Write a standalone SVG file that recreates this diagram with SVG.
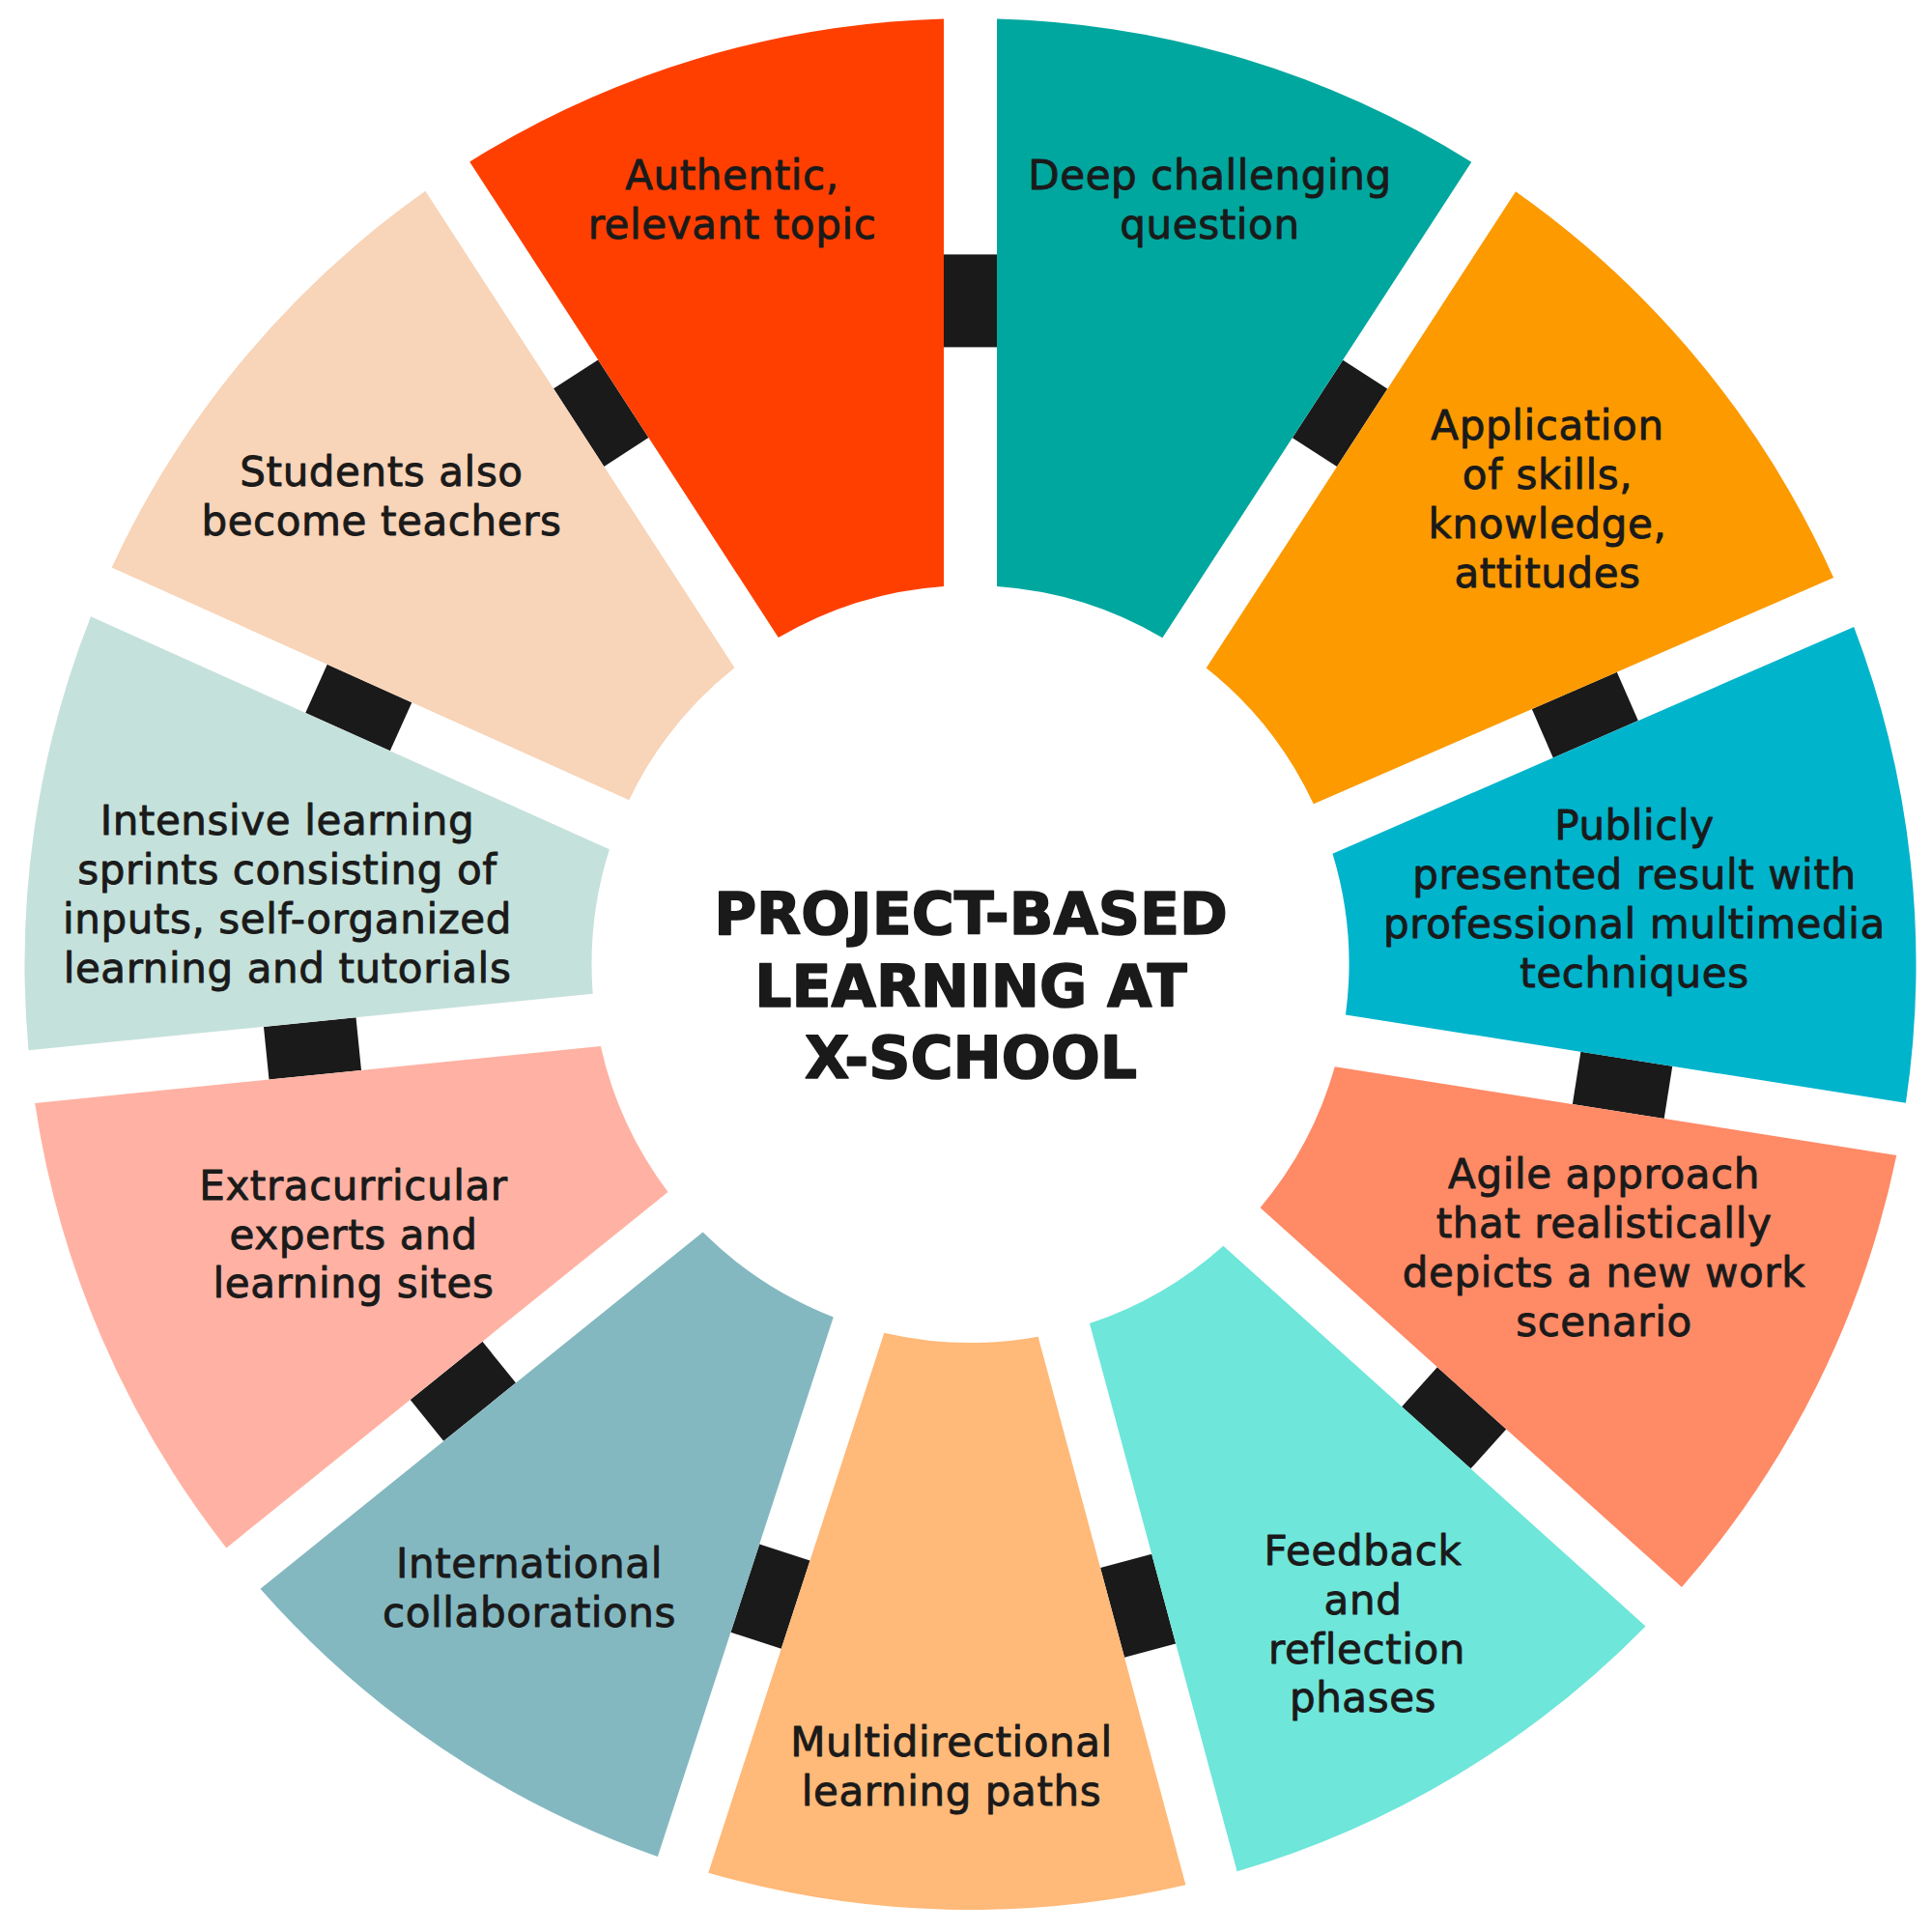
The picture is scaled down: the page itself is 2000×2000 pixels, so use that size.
<svg xmlns="http://www.w3.org/2000/svg" width="2000" height="2000" viewBox="0 0 2000 2000">
<style>
.lbl{font-family:"DejaVu Sans","Liberation Sans",sans-serif;font-size:42px;letter-spacing:0.6px;fill:#1a1a1a;text-anchor:middle;stroke:#1a1a1a;stroke-width:0.9px;stroke-linejoin:round}
.title{font-family:"DejaVu Sans","Liberation Sans",sans-serif;font-size:60px;font-weight:bold;fill:#1a1a1a;text-anchor:middle;stroke:#1a1a1a;stroke-width:1.6px;stroke-linejoin:round}
.blk{fill:#1a1a1a}
</style>
<defs>
<rect id="link" x="-27.5" y="-48" width="55" height="96"/>
</defs>
<rect width="2000" height="2000" fill="#ffffff"/>
<g id="connectors" class="blk">
<use href="#link" transform="translate(1004.5 311.4) rotate(0)"/>
<use href="#link" transform="translate(1387.09 427.87) rotate(33)"/>
<use href="#link" transform="translate(1640.81 740.06) rotate(66.48)"/>
<use href="#link" transform="translate(1679.55 1123.43) rotate(98.96)"/>
<use href="#link" transform="translate(1505.18 1467.82) rotate(132)"/>
<use href="#link" transform="translate(1178.13 1662.28) rotate(164.94)"/>
<use href="#link" transform="translate(797.48 1652.65) rotate(198.04)"/>
<use href="#link" transform="translate(479.33 1440.3) rotate(231.13)"/>
<use href="#link" transform="translate(323.49 1085.45) rotate(264.26)"/>
<use href="#link" transform="translate(371.28 732.55) rotate(294.19)"/>
<use href="#link" transform="translate(622.22 427.66) rotate(327.03)"/>
</g>
<g id="node-deep">
<path fill="#00a79e" d="M1032,606.97 L1032,19.39 A979,979 0 0 1 1523.24,167.73 L1203.41,660.21 A392,392 0 0 0 1032,606.97 Z"/>
<text class="lbl"><tspan x="1252.5" y="195.5">Deep challenging</tspan><tspan x="1252.5" y="246.5">question</tspan></text>
</g>
<g id="node-application">
<path fill="#fc9a00" d="M1248.74,691.39 L1569.05,198.17 A979,979 0 0 1 1898.1,598.09 L1359.8,832.37 A392,392 0 0 0 1248.74,691.39 Z"/>
<text class="lbl"><tspan x="1602" y="454.7">Application</tspan><tspan x="1602" y="505.7">of skills,</tspan><tspan x="1602" y="556.7">knowledge,</tspan><tspan x="1602" y="607.7">attitudes</tspan></text>
</g>
<g id="node-publicly">
<path fill="#00b4cc" d="M1379.49,883.79 L1919.14,648.91 A979,979 0 0 1 1972.88,1141.84 L1392.98,1050.41 A392,392 0 0 0 1379.49,883.79 Z"/>
<text class="lbl"><tspan x="1692" y="869">Publicly</tspan><tspan x="1692" y="920">presented result with</tspan><tspan x="1692" y="971">professional multimedia</tspan><tspan x="1692" y="1022">techniques</tspan></text>
</g>
<g id="node-agile">
<path fill="#ff8a66" d="M1381.8,1104.33 L1963.27,1196 A979,979 0 0 1 1740.92,1643.07 L1304.59,1250.2 A392,392 0 0 0 1381.8,1104.33 Z"/>
<text class="lbl"><tspan x="1660.5" y="1230">Agile approach</tspan><tspan x="1660.5" y="1281">that realistically</tspan><tspan x="1660.5" y="1332">depicts a new work</tspan><tspan x="1660.5" y="1383">scenario</tspan></text>
</g>
<g id="node-feedback">
<path fill="#6ee6da" d="M1266.32,1289.75 L1703.53,1683.42 A979,979 0 0 1 1280.6,1937.27 L1127.98,1370.05 A392,392 0 0 0 1266.32,1289.75 Z"/>
<text class="lbl"><tspan x="1411" y="1619.5">Feedback</tspan><tspan x="1411" y="1670.5">and</tspan><tspan x="1415" y="1721.5">reflection</tspan><tspan x="1411" y="1772">phases</tspan></text>
</g>
<g id="node-multidirectional">
<path fill="#ffb978" d="M1074.68,1383.67 L1227.41,1951.3 A979,979 0 0 1 733.24,1938.67 L915.29,1379.72 A392,392 0 0 0 1074.68,1383.67 Z"/>
<text class="lbl"><tspan x="985" y="1818.4">Multidirectional</tspan><tspan x="985" y="1869.4">learning paths</tspan></text>
</g>
<g id="node-international">
<path fill="#84b8c1" d="M862.73,1363.47 L680.84,1921.95 A979,979 0 0 1 269.52,1644.73 L727.62,1275.49 A392,392 0 0 0 862.73,1363.47 Z"/>
<text class="lbl"><tspan x="548" y="1632.5">International</tspan><tspan x="548" y="1683.5">collaborations</tspan></text>
</g>
<g id="node-extracurricular">
<path fill="#ffb2a3" d="M691.48,1233.98 L234.36,1602.44 A979,979 0 0 1 36.14,1141.97 L621.85,1083.1 A392,392 0 0 0 691.48,1233.98 Z"/>
<text class="lbl"><tspan x="366" y="1241.5">Extracurricular</tspan><tspan x="366" y="1292.5">experts and</tspan><tspan x="366" y="1343.3">learning sites</tspan></text>
</g>
<g id="node-intensive">
<path fill="#c5e1db" d="M613.7,1028.64 L29.58,1087.36 A979,979 0 0 1 94.02,638.15 L630.89,879.32 A392,392 0 0 0 613.7,1028.64 Z"/>
<text class="lbl"><tspan x="297.5" y="864">Intensive learning</tspan><tspan x="297.5" y="915">sprints consisting of</tspan><tspan x="297.5" y="966">inputs, self-organized</tspan><tspan x="297.5" y="1017">learning and tutorials</tspan></text>
</g>
<g id="node-students">
<path fill="#f8d4b8" d="M651.2,828.15 L115.67,587.58 A979,979 0 0 1 440.38,197.87 L760.42,691.26 A392,392 0 0 0 651.2,828.15 Z"/>
<text class="lbl"><tspan x="395" y="503.3">Students also</tspan><tspan x="395" y="554.3">become teachers</tspan></text>
</g>
<g id="node-authentic">
<path fill="#ff3f00" d="M805.77,660.1 L486.2,167.44 A979,979 0 0 1 977,19.39 L977,606.97 A392,392 0 0 0 805.77,660.1 Z"/>
<text class="lbl"><tspan x="758" y="195.5">Authentic,</tspan><tspan x="758" y="246.5">relevant topic</tspan></text>
</g>
<g id="title">
<text class="title"><tspan x="1005" y="966.5">PROJECT-BASED</tspan><tspan x="1005" y="1041.8">LEARNING AT</tspan><tspan x="1005" y="1116.3">X-SCHOOL</tspan></text>
</g>
</svg>
